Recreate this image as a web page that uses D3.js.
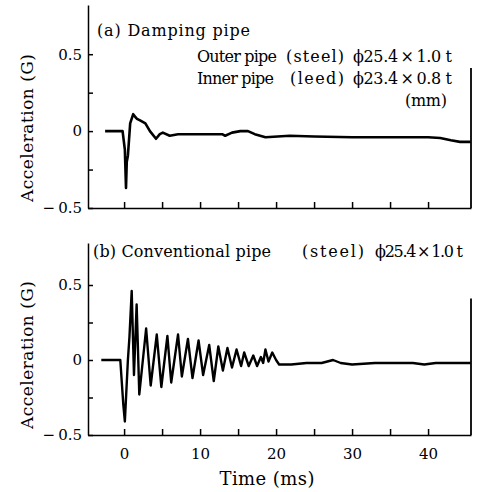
<!DOCTYPE html>
<html>
<head>
<meta charset="utf-8">
<script src="https://cdn.jsdelivr.net/npm/d3@7"></script>
<style>
  body { margin: 0; background: #fff; }
  text { font-family: 'DejaVu Serif', 'Liberation Serif', serif; fill: #000; }
</style>
</head>
<body>
<div id="chart"></div>
<script>
// (a) damping pipe trace
const dampingTime  = [-2.5, -0.2, 0.1, 0.25, 0.35, 0.5, 0.8, 1.2, 1.5, 1.7, 2.1, 2.8, 3.4, 4.2, 4.7, 5.1, 6.0, 7.1, 8.7, 10.7, 12.9, 13.3, 14.2, 15.3, 16.3, 17.2, 18.6, 21.8, 25, 30, 35, 40, 41.6, 43, 44.2, 45.6];
const dampingAccel = [0, 0, -0.12, -0.37, -0.2, -0.16, 0.05, 0.11, 0.09, 0.08, 0.07, 0.05, 0.0, -0.05, -0.02, -0.01, -0.03, -0.02, -0.02, -0.02, -0.02, -0.03, -0.01, 0.0, 0.0, -0.02, -0.04, -0.03, -0.035, -0.04, -0.04, -0.04, -0.045, -0.06, -0.07, -0.07];

// (b) conventional pipe trace
const convTime  = [-3, -0.5, -0.1, 0.1, 0.5, 0.7, 1.0, 1.3, 1.65, 2.0, 2.9, 3.5, 4.3, 4.9, 5.7, 6.2, 7.1, 7.6, 8.4, 9.0, 9.8, 10.4, 11.2, 11.8, 12.4, 13.0, 13.6, 14.2, 14.8, 15.4, 15.8, 16.4, 17.0, 17.5, 18.0, 18.3, 18.6, 19.0, 19.5, 20.0, 20.4, 22, 24, 26, 27.5, 28.5, 30, 33, 36, 38, 39.5, 41, 45.6];
const convAccel = [0, 0, -0.3, -0.41, 0.0, 0.15, 0.46, -0.1, 0.37, -0.23, 0.21, -0.17, 0.17, -0.18, 0.16, -0.15, 0.17, -0.11, 0.14, -0.12, 0.13, -0.1, 0.1, -0.14, 0.09, -0.07, 0.08, -0.05, 0.07, -0.04, 0.05, -0.04, 0.03, -0.04, 0.02, -0.02, 0.07, -0.01, 0.05, 0.0, -0.03, -0.03, -0.02, -0.02, 0.0, -0.02, -0.03, -0.02, -0.02, -0.02, -0.03, -0.02, -0.02];

const xTicks = [0, 5, 10, 15, 20, 25, 30, 35, 40];
const xTickLabels = ['0', '', '10', '', '20', '', '30', '', '40'];
const yTicks = [-0.5, -0.25, 0, 0.25, 0.5];
const yTickLabels = ['\u2212\u20090.5', '', '0', '', '0.5'];

const width = 478, height = 492;
const svg = d3.select('#chart').append('svg')
  .attr('width', width).attr('height', height);

const xScale = d3.scaleLinear().domain([-4.75, 45.65]).range([88, 471]);

function addText(g, str, x, y, size, len, anchor) {
  const t = g.append('text')
    .attr('x', x).attr('y', y)
    .attr('font-size', size)
    .attr('text-anchor', anchor || 'start')
    .text(str);
  if (len) t.attr('textLength', len).attr('lengthAdjust', 'spacing');
  return t;
}

function drawPanel(cfg) {
  const y = d3.scaleLinear().domain(cfg.yDomain).range(cfg.yRange);
  const g = svg.append('g');

  // left axis, ticks point inward
  const ya = g.append('g')
    .attr('transform', `translate(${xScale.range()[0]},0)`)
    .call(d3.axisLeft(y).tickValues(yTicks).tickSize(-5).tickSizeOuter(0).tickPadding(6)
      .tickFormat((d, i) => yTickLabels[i]));
  ya.attr('font-family', null).attr('font-size', 15);

  // bottom axis
  const xa = g.append('g')
    .attr('transform', `translate(0,${cfg.yRange[0]})`)
    .call(d3.axisBottom(xScale).tickValues(xTicks).tickSize(-6).tickSizeOuter(0).tickPadding(13)
      .tickFormat((d, i) => cfg.showX ? xTickLabels[i] : ''));
  xa.attr('font-family', null).attr('font-size', 15);

  g.selectAll('.domain, .tick line').attr('stroke', '#000').attr('stroke-width', 1.5);

  // partial right frame
  g.append('line')
    .attr('x1', xScale.range()[1]).attr('x2', xScale.range()[1])
    .attr('y1', y(0.41)).attr('y2', cfg.yRange[0])
    .attr('stroke', '#000').attr('stroke-width', 1.8);

  const line = d3.line().x(d => xScale(d[0])).y(d => y(d[1]));
  g.append('path')
    .datum(cfg.time.map((t, i) => [t, cfg.accel[i]]))
    .attr('d', line)
    .attr('fill', 'none')
    .attr('stroke', '#000')
    .attr('stroke-width', cfg.lineWidth)
    .attr('stroke-linejoin', 'round');

  addText(g, 'Acceleration (G)', 0, 0, 17, 148, 'middle')
    .attr('transform', `translate(33,${cfg.labelY}) rotate(-90)`);

  cfg.notes.forEach(n => addText(g, n.text, n.x, n.y, 16, n.len));
  return y;
}

drawPanel({
  time: dampingTime, accel: dampingAccel,
  yDomain: [-0.5, 0.82], yRange: [208, 5],
  showX: false, labelY: 128, lineWidth: 2.6,
  notes: [
    { text: '(a) Damping pipe', x: 97, y: 36, len: 153 },
    { text: 'Outer pipe', x: 197, y: 62, len: 80 },
    { text: '(steel)', x: 286, y: 62, len: 58 },
    { text: '\u03D525.4\u2009\u00D7\u20091.0 t', x: 353, y: 62, len: 99 },
    { text: 'Inner pipe', x: 197, y: 84, len: 77 },
    { text: '(leed)', x: 290, y: 84, len: 54 },
    { text: '\u03D523.4\u2009\u00D7\u20090.8 t', x: 353, y: 84, len: 99 },
    { text: '(mm)', x: 405, y: 106, len: 42 },
  ],
});

drawPanel({
  time: convTime, accel: convAccel,
  yDomain: [-0.5, 0.78], yRange: [435, 243],
  showX: true, labelY: 355, lineWidth: 2.4,
  notes: [
    { text: '(b) Conventional pipe', x: 93, y: 257, len: 178 },
    { text: '(steel)', x: 302, y: 257, len: 62 },
    { text: '\u03D525.4\u2009\u00D7\u20091.0 t', x: 375, y: 257, len: 88 },
  ],
});

addText(svg, 'Time (ms)', 267, 485, 18, 95, 'middle');
</script>
</body>
</html>
